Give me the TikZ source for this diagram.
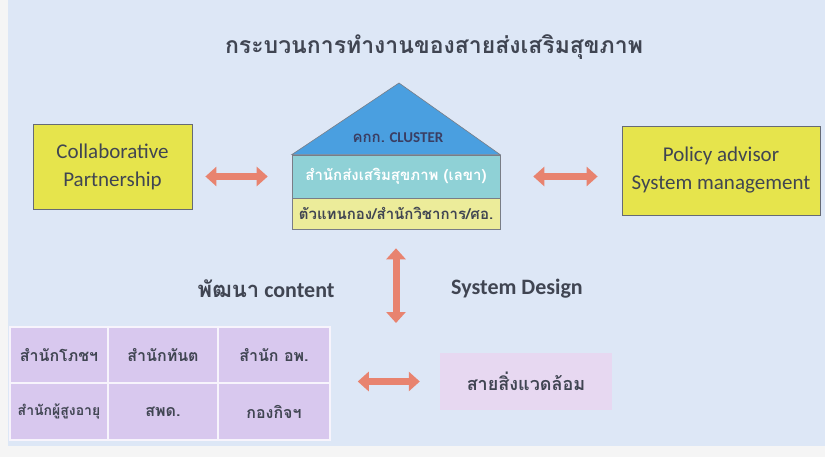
\documentclass[tikz,border=0pt]{standalone}
\usepackage{fontspec}
\setmainfont{Carlito}
\newfontfamily\thai[Script=Thai]{Loma}
\usetikzlibrary{arrows.meta}
\definecolor{slidebg}{RGB}{221,231,246}
\definecolor{ink}{RGB}{64,69,82}
\definecolor{boxyellow}{RGB}{230,228,76}
\definecolor{roofblue}{RGB}{74,159,224}
\definecolor{tealband}{RGB}{143,209,214}
\definecolor{paleyellow}{RGB}{236,236,154}
\definecolor{cellpurple}{RGB}{216,200,238}
\definecolor{envpurple}{RGB}{231,216,241}
\definecolor{salmon}{RGB}{232,131,111}
\begin{document}
\begin{tikzpicture}[
    x=1pt, y=-1pt,
    partner/.style={rectangle, draw=ink!80, line width=0.8pt, fill=boxyellow, text=ink, font=\fontsize{21}{28}\selectfont, align=center},
    band/.style={rectangle, draw=ink!70, line width=0.6pt, minimum width=208pt, inner sep=0pt, font=\thai\bfseries\fontsize{15}{17}\selectfont},
    cell/.style={rectangle, draw=white!80!cellpurple, line width=1.5pt, fill=cellpurple, text=ink, inner sep=0pt, font=\thai\bfseries\fontsize{16}{18}\selectfont},
    biarrow/.style={salmon, line width=7pt, {Triangle[length=11pt,width=19pt]}-{Triangle[length=11pt,width=19pt]}},
    label/.style={text=ink, font=\fontsize{22}{26}\selectfont\bfseries}
]
% === Slide background ===
\fill[white!92!gray] (0,0) rectangle (825,457);
\fill[slidebg] (8,0) rectangle (825,446);
\useasboundingbox (0,0) rectangle (825,457);

% Title
\node[text=ink, font=\thai\bfseries\fontsize{23}{26}\selectfont] (title) at (434,47) {กระบวนการทำงานของสายส่งเสริมสุขภาพ};

% === House in the middle ===
\node[band, fill=tealband, text=white, minimum height=43pt] (sec) at (396,176.5) {สำนักส่งเสริมสุขภาพ (เลขา)};
\node[band, fill=paleyellow, text=ink, minimum height=31pt] (rep) at (396,213.5) {ตัวแทนกอง/สำนักวิชาการ/ศอ.};
\coordinate (apex) at (399,83);
\draw[ink!70, line width=0.6pt, fill=roofblue] (sec.north west) -- (apex) -- (sec.north east) -- cycle;
\node[text=ink!90!blue, font=\bfseries\fontsize{15}{17}\selectfont] (board) at (398,138) {{\thai คกก.} CLUSTER};

% Side partners
\node[partner, minimum width=159pt, minimum height=85pt] (collab) at (112.5,166.5) {Collaborative\\Partnership};
\node[partner, minimum width=198pt, minimum height=89pt] (policy) at (721,170.5) {Policy advisor\\System management};

% Arrows for top row
\draw[biarrow, shorten <=13pt, shorten >=24pt] (collab.east |- sec) -- (sec.west);
\draw[biarrow, shorten <=33pt, shorten >=24pt] (sec.east) -- (policy.west |- sec);

% === Middle labels ===
\node[label] (content) at (266,289) {{\thai พัฒนา} content};
\node[label] (design) at (517,289) {System Design};
\coordinate (down) at (rep.south |- 0,323);
\draw[biarrow, shorten <=19pt] (rep.south) -- (down);

% === Bottom: offices grid ===
\node[cell, minimum width=98pt, minimum height=56pt] (c11) at (59,355) {สำนักโภชฯ};
\node[cell, minimum width=110pt, minimum height=56pt] (c12) at (163,355) {สำนักทันต};
\node[cell, minimum width=112pt, minimum height=56pt] (c13) at (274,355) {สำนัก อพ.};
\node[cell, minimum width=98pt, minimum height=57pt, font=\thai\bfseries\fontsize{14}{16}\selectfont] (c21) at (59,411.5) {สำนักผู้สูงอายุ};
\node[cell, minimum width=110pt, minimum height=57pt] (c22) at (163,411.5) {สพด.};
\node[cell, minimum width=112pt, minimum height=57pt] (c23) at (274,411.5) {กองกิจฯ};

% Environment line
\node[rectangle, fill=envpurple, text=ink, minimum width=172pt, minimum height=57pt, font=\thai\bfseries\fontsize{18}{20}\selectfont] (env) at (526,381.5) {สายสิ่งแวดล้อม};
\draw[biarrow, shorten <=27pt, shorten >=20pt] (c13.east |- env) -- (env.west);

\end{tikzpicture}
\end{document}
